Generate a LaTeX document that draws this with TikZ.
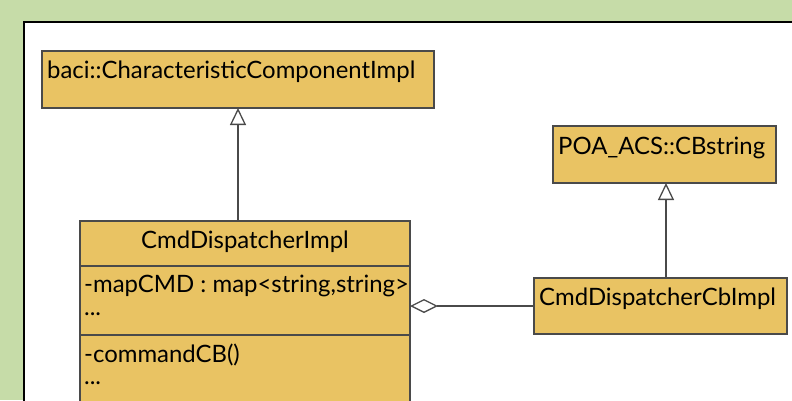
\documentclass[tikz,border=0pt]{standalone}
\usepackage{fontspec}
\setmainfont{Lato}
\usetikzlibrary{arrows.meta}
\definecolor{bggreen}{HTML}{C6DCA8}
\definecolor{boxfill}{HTML}{E9C363}
\definecolor{boxline}{HTML}{4A4A4A}
\tikzset{
  x=1bp,y=-1bp,
  umlbox/.style={draw=boxline,fill=boxfill,line width=1.2bp},
  lbl/.style={inner sep=0pt,font=\fontsize{24}{26}\selectfont,text=black},
  conn/.style={draw=boxline,line width=1.3bp},
  inherit/.style={conn,-{Triangle[open,width=16bp,length=17bp,fill=white]}},
  aggr/.style={conn,-{Diamond[open,width=14bp,length=28bp,fill=white]}}
}
\begin{document}
\begin{tikzpicture}
\useasboundingbox (0,0) rectangle (792,400);
\fill[bggreen] (0,0) rectangle (792,400);
\fill[white] (24,22) rectangle (800,410);
\draw[black,line width=2.5bp] (24,410) -- (24,22) -- (800,22);
% boxes
\draw[umlbox] (42,51) rectangle (434,108);
\coordinate (base) at (238,108);
\node[lbl,anchor=west] (baseT) at (47,72) {baci::CharacteristicComponentImpl};
\draw[umlbox] (553,126) rectangle (776,183);
\coordinate (poa) at (666,183);
\node[lbl,anchor=west] (poaT) at (558,148) {POA\_ACS::CBstring};
\draw[umlbox] (534,278) rectangle (787,334);
\coordinate (cbTop) at (666,278);
\coordinate (cbLeft) at (534,306);
\node[lbl,anchor=west] (cbT) at (539,299) {CmdDispatcherCbImpl};
\draw[umlbox] (80,221) rectangle (410,420);
\draw[boxline,line width=1.2bp] (80,266) -- (410,266) (80,335) -- (410,335);
\coordinate (mainTop) at (238,221);
\coordinate (mainRight) at (410,306);
\node[lbl] (mainT) at (245,242) {CmdDispatcherImpl};
\node[lbl,anchor=west] (a1) at (84,286) {-mapCMD : map<string,string>};
\node[lbl,anchor=west] (a2) at (84,314) {...};
\node[lbl,anchor=west] (m1) at (84,355) {-commandCB()};
\node[lbl,anchor=west] (m2) at (84,383) {...};
% connectors
\draw[inherit] (mainTop) -- (base);
\draw[inherit] (cbTop) -- (poa);
\draw[aggr] (cbLeft) -- (mainRight);
\end{tikzpicture}
\end{document}
